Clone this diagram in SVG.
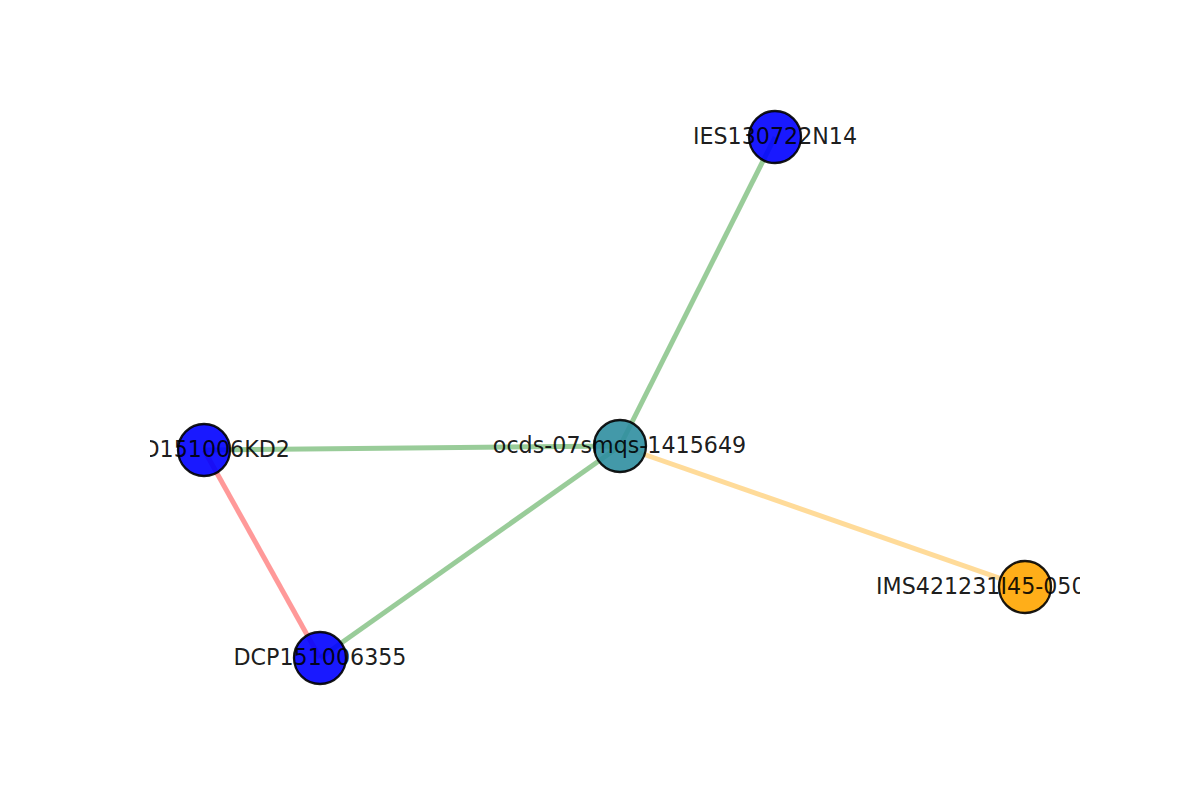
<svg xmlns="http://www.w3.org/2000/svg" width="1200" height="800" viewBox="0 0 1200 800">
<defs>
<clipPath id="ax"><rect x="150" y="96" width="930" height="616"/></clipPath>
<style>
.e{stroke-width:5;stroke-linecap:butt;fill:none}
.g{stroke:#008000;stroke-opacity:0.4}
.r{stroke:#ff0000;stroke-opacity:0.4}
.o{stroke:#ffa500;stroke-opacity:0.4}
.n{fill-opacity:0.9;stroke:#000;stroke-opacity:0.9;stroke-width:2.3}
.t{font-family:"DejaVu Sans",sans-serif;font-size:22.2px;fill:#000;fill-opacity:0.9;text-anchor:middle;dominant-baseline:central}
</style>
</defs>
<rect width="1200" height="800" fill="#fff"/>
<g clip-path="url(#ax)">
<g id="connectors">
<line class="e g" x1="620" y1="446" x2="775" y2="137"/>
<line class="e g" x1="620" y1="446" x2="204" y2="450"/>
<line class="e g" x1="620" y1="446" x2="320" y2="658"/>
<line class="e o" x1="620" y1="446" x2="1025" y2="587"/>
<line class="e r" x1="204" y1="450" x2="320" y2="658"/>
</g>
<g id="node-ocds"><circle class="n" cx="620" cy="446" r="26" fill="#2f8ea0"/><text class="t" x="619.5" y="445">ocds-07smqs-1415649</text></g>
<g id="node-IES130722N14"><circle class="n" cx="775" cy="137" r="26" fill="#0000ff"/><text class="t" x="775" y="136">IES130722N14</text></g>
<g id="node-D151006KD2"><circle class="n" cx="204" cy="450" r="26" fill="#0000ff"/><text class="t" x="290" y="449" style="text-anchor:end">DCD151006KD2</text></g>
<g id="node-DCP151006355"><circle class="n" cx="320" cy="658" r="26" fill="#0000ff"/><text class="t" x="320" y="657">DCP151006355</text></g>
<g id="node-IMS"><circle class="n" cx="1025" cy="587" r="26" fill="#ffa500"/><text class="t" x="876" y="586" style="text-anchor:start">IMS421231I45-0503</text></g>
</g>
</svg>
